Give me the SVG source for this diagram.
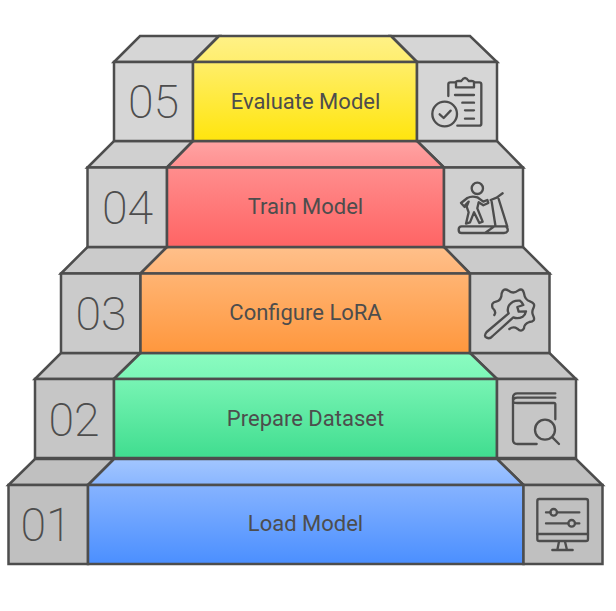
<svg xmlns="http://www.w3.org/2000/svg" width="616" height="611" viewBox="0 0 616 611">
<style>
.s{stroke:#4d4d4d;stroke-width:2.5;stroke-linejoin:miter}
.g1{fill:#c0c0c0}.g2{fill:#c6c6c6}.g3{fill:#cbcbcb}.g4{fill:#d0d0d0}.g5{fill:#d6d6d6}
.n{font:200 46.500px Roboto,"Liberation Sans",sans-serif;fill:#4d4d4d;text-anchor:middle}
.l{font:400 22px Roboto,"Liberation Sans",sans-serif;fill:#4d4d4d;text-anchor:middle}
.i{fill:none;stroke:#4d4d4d;stroke-width:7;stroke-linecap:round;stroke-linejoin:round}
</style>
<defs>
<linearGradient id="y1" x1="0" y1="0" x2="0" y2="1"><stop offset="0" stop-color="#fff187"/><stop offset="1" stop-color="#ffee6e"/></linearGradient>
<linearGradient id="y2" x1="0" y1="0" x2="0" y2="1"><stop offset="0" stop-color="#ffee6a"/><stop offset="1" stop-color="#ffe50d"/></linearGradient>
<linearGradient id="r1" x1="0" y1="0" x2="0" y2="1"><stop offset="0" stop-color="#ffa3a3"/><stop offset="1" stop-color="#ff9090"/></linearGradient>
<linearGradient id="r2" x1="0" y1="0" x2="0" y2="1"><stop offset="0" stop-color="#ff8d8d"/><stop offset="1" stop-color="#ff6464"/></linearGradient>
<linearGradient id="o1" x1="0" y1="0" x2="0" y2="1"><stop offset="0" stop-color="#ffc08a"/><stop offset="1" stop-color="#ffb578"/></linearGradient>
<linearGradient id="o2" x1="0" y1="0" x2="0" y2="1"><stop offset="0" stop-color="#ffb473"/><stop offset="1" stop-color="#ff973d"/></linearGradient>
<linearGradient id="e1" x1="0" y1="0" x2="0" y2="1"><stop offset="0" stop-color="#8bfcc0"/><stop offset="1" stop-color="#7cf6b8"/></linearGradient>
<linearGradient id="e2" x1="0" y1="0" x2="0" y2="1"><stop offset="0" stop-color="#78f4b4"/><stop offset="1" stop-color="#40dd8f"/></linearGradient>
<linearGradient id="b1" x1="0" y1="0" x2="0" y2="1"><stop offset="0" stop-color="#a2c6ff"/><stop offset="1" stop-color="#8ab6ff"/></linearGradient>
<linearGradient id="b2" x1="0" y1="0" x2="0" y2="1"><stop offset="0" stop-color="#86b3ff"/><stop offset="1" stop-color="#4b8fff"/></linearGradient>
</defs>
<g id="connectors"></g>

<g id="step-01">
<path class="s g1" d="M8.500 485L35 459H114L88 485Z"/><path class="s g1" d="M523.500 485L497 459H576L602.500 485Z"/>
<path class="s" fill="url(#b1)" d="M88 485L114 459H497L523.500 485Z"/>
<rect class="s g1" x="8.500" y="485" width="79.500" height="79"/><rect class="s" fill="url(#b2)" x="88" y="485" width="435.500" height="79"/><rect class="s g1" x="523.500" y="485" width="79" height="79"/>
<text class="n" x="46" y="541">01</text><text class="l" x="305.500" y="531">Load Model</text>
<g class="i" transform="translate(450 260) scale(.3333)">
<rect x="262" y="717" width="152" height="126" rx="6"/><path d="M262 822H414M327 845L322 870M345 845L351 870M307 870H368M288 757H302M321 757H388M288 790H355M375 790H388"/><circle cx="311" cy="757" r="10"/><circle cx="365" cy="790" r="10"/>
</g></g>

<g id="step-02">
<path class="s g2" d="M35 379L61 353H140.500L114 379Z"/><path class="s g2" d="M497 379L470 353H549.500L576 379Z"/>
<path class="s" fill="url(#e1)" d="M114 379L140.500 353H470L497 379Z"/>
<rect class="s g2" x="35" y="379" width="79" height="79"/><rect class="s" fill="url(#e2)" x="114" y="379" width="383" height="79"/><rect class="s g2" x="497" y="379" width="79" height="79"/>
<text class="n" x="74" y="436">02</text><text class="l" x="305.500" y="425.500">Prepare Dataset</text>
<g class="i" transform="translate(450 260) scale(.3333)">
<path d="M316 400H202Q189 400 189 413V540Q189 552 202 552H260M316 413H202Q189 413 189 425Q189 429 202 429H312Q316 429 316 433V478"/><circle cx="285" cy="509" r="30"/><path d="M308 533L327 552"/>
</g></g>

<g id="step-03">
<path class="s g3" d="M61 273.500L87.500 247H167L140.500 273.500Z"/><path class="s g3" d="M470 273.500L444 247H523L549.500 273.500Z"/>
<path class="s" fill="url(#o1)" d="M140.500 273.500L167 247H444L470 273.500Z"/>
<rect class="s g3" x="61" y="273.500" width="79.500" height="79.500"/><rect class="s" fill="url(#o2)" x="140.500" y="273.500" width="329.500" height="79.500"/><rect class="s g3" x="470" y="273.500" width="79.500" height="79.500"/>
<text class="n" x="101" y="330">03</text><text class="l" x="305.500" y="320">Configure LoRA</text>
<g class="i" transform="translate(450 260) scale(.3333)">
<path d="M133 165Q140 155 128 144Q122 128 138 125Q155 122 155 100Q160 82 176 92Q190 103 204 92Q218 82 222 100Q225 120 240 124Q258 130 250 145Q244 157 250 168Q258 185 238 186Q222 192 222 205Q214 218 202 206Q190 198 178 207"/>
<path d="M210 122Q188 120 177 136Q170 150 176 160L110 216Q100 228 110 233Q120 238 128 228L190 172Q204 178 218 170Q226 165 228 154L206 155L202 141L220 135Q216 126 210 122Z"/>
</g></g>

<g id="step-04">
<path class="s g4" d="M87.500 167.500L114 141H193L167 167.500Z"/><path class="s g4" d="M444 167.500L417 141H497L523 167.500Z"/>
<path class="s" fill="url(#r1)" d="M167 167.500L193 141H417L444 167.500Z"/>
<rect class="s g4" x="87.500" y="167.500" width="79.500" height="79.500"/><rect class="s" fill="url(#r2)" x="167" y="167.500" width="277" height="79.500"/><rect class="s g4" x="444" y="167.500" width="79" height="79.500"/>
<text class="n" x="127.500" y="224">04</text><text class="l" x="305.500" y="214">Train Model</text>
<g class="i" transform="translate(400 25) scale(.3333)">
<circle cx="232" cy="490" r="17"/>
<path d="M202 519Q215 512 232 517L250 530L262 525L265 534L250 541L236 532L232 550L248 590L238 594L222 562L210 592L198 596L206 562L200 545L206 530L196 540L194 546L183 534Z"/>
<path d="M185 604H318Q325 610 323 618Q320 624 312 624H185Q176 624 176 614Q176 604 185 604ZM272 525L290 518L308 505M275 530L286 600M296 522L322 605M255 624L282 605"/>
</g></g>

<g id="step-05">
<path class="s g5" d="M114 62L140 36H219L193 62Z"/><path class="s g5" d="M417 62L391 36H470L497 62Z"/>
<path class="s" fill="url(#y1)" d="M193 62L219 36H391L417 62Z"/>
<rect class="s g5" x="114" y="62" width="79" height="79"/><rect class="s" fill="url(#y2)" x="193" y="62" width="224" height="79"/><rect class="s g5" x="417" y="62" width="80" height="79"/>
<text class="n" x="153.500" y="118">05</text><text class="l" x="305.500" y="108.500">Evaluate Model</text>
<g class="i" transform="translate(400 25) scale(.3333)">
<path d="M145 213V178Q145 172 151 172H168M222 172H238Q244 172 244 178V296Q244 302 238 302H172"/>
<path d="M168 187V172Q168 168 176 168H184Q195 150 206 168H214Q222 168 222 172V187Z"/>
<path d="M165 210H222M187 233H222M195 256H222M195 281H222"/><circle cx="134" cy="267" r="37"/><path d="M119 268L131 279L152 257"/>
</g></g>
</svg>
